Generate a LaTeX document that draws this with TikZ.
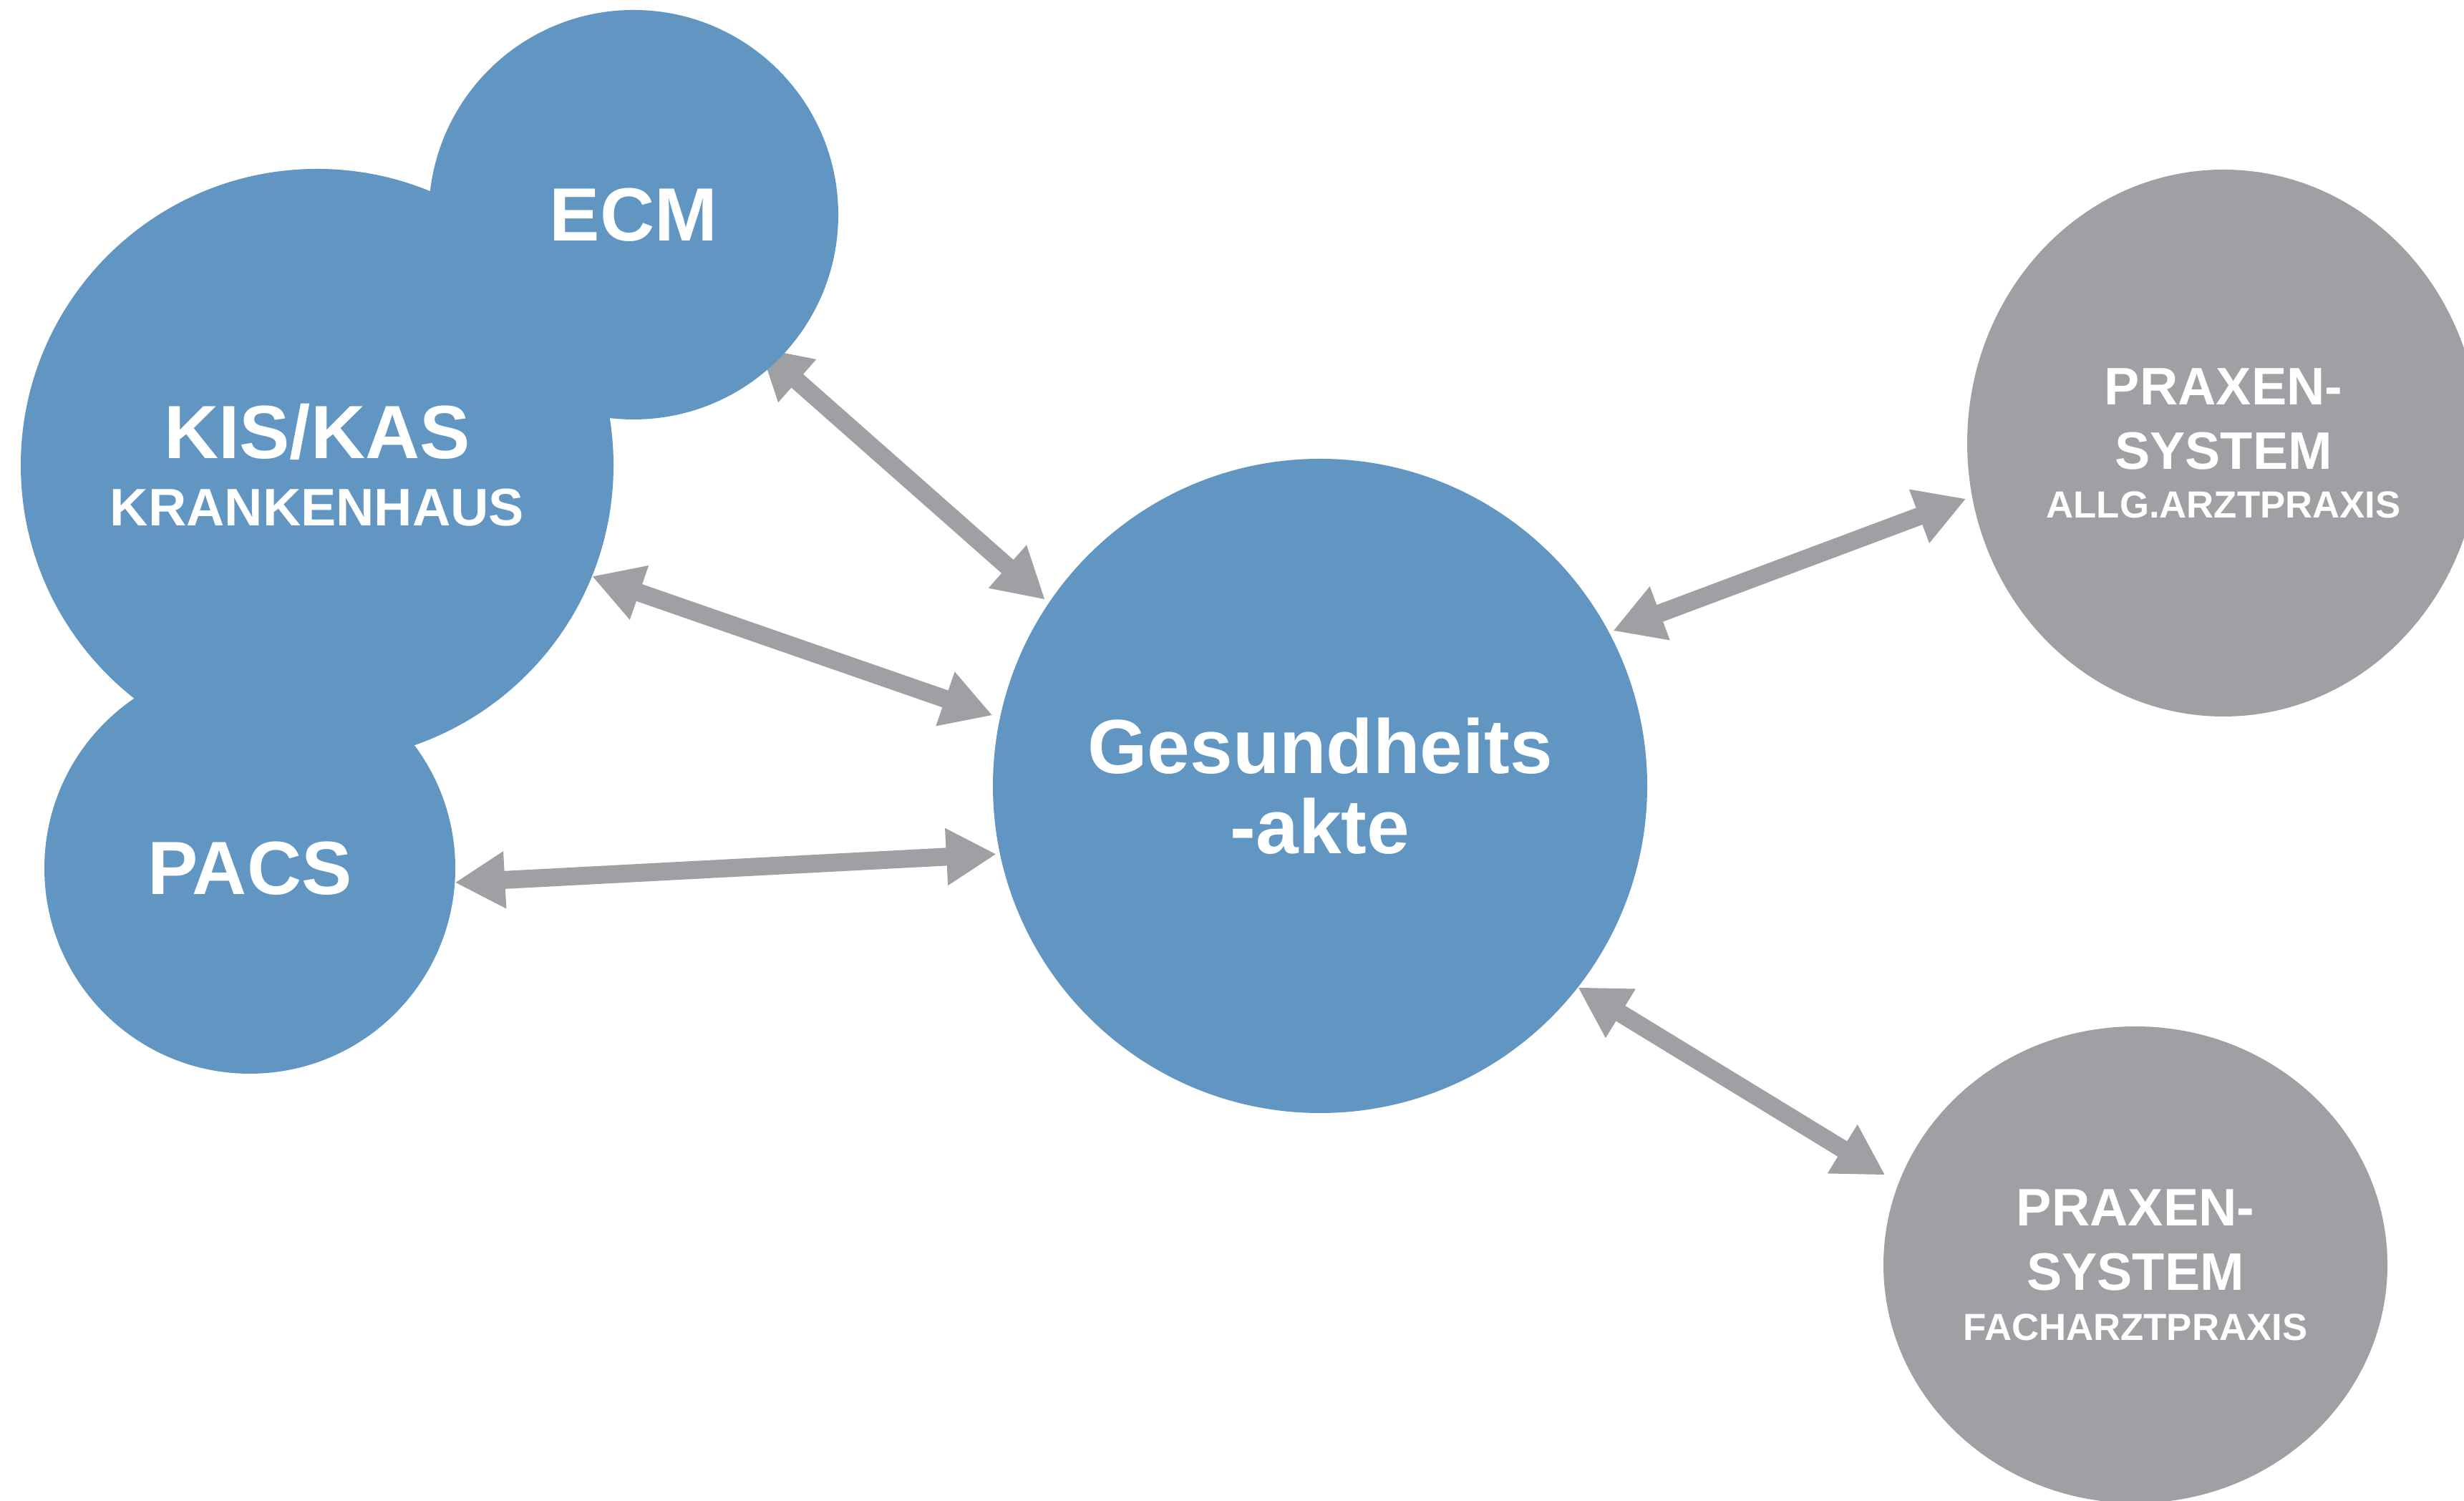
\documentclass[tikz,border=0pt]{standalone}
\usepackage{fontspec}
\setmainfont{Liberation Sans}
\usetikzlibrary{arrows.meta,shapes.geometric}
\definecolor{kisblue}{RGB}{97,149,194}
\definecolor{linkgrey}{RGB}{159,160,164}
\pgfdeclarelayer{bg}
\pgfsetlayers{bg,main}

\begin{document}
\begin{tikzpicture}
  [bubble/.style={circle,fill=kisblue,text=white,inner sep=0pt,outer sep=0pt,align=center},
   greybubble/.style={ellipse,fill=linkgrey,text=white,inner sep=0pt,outer sep=0pt,align=center},
   link/.style={draw=linkgrey,line width=2.5mm,{Triangle[length=7mm,width=7.5mm]}-{Triangle[length=7mm,width=7.5mm]}}]

  \begin{pgfonlayer}{bg}
    \fill[white] (0,0) rectangle (34.42,20.97);
  \end{pgfonlayer}
  \useasboundingbox (0,0) rectangle (34.42,20.97);

  \node[bubble,minimum size=8.28cm,font=\bfseries\fontsize{30}{26.7}\selectfont] (kis) at (4.43,14.47)
    {KIS/KAS\\{\fontsize{21}{21}\selectfont KRANKENHAUS}};
  \node[bubble,minimum size=5.72cm,font=\bfseries\fontsize{30}{32}\selectfont] (ecm) at (8.85,17.97) {ECM};
  \node[bubble,minimum size=5.74cm,font=\bfseries\fontsize{30}{32}\selectfont] (pacs) at (3.49,8.84) {PACS};
  \node[bubble,minimum size=9.14cm,font=\bfseries\fontsize{30.5}{31.9}\selectfont] (ges) at (18.44,9.99)
    {Gesundheits\\-akte};
  \node[greybubble,minimum width=7.16cm,minimum height=7.64cm,font=\bfseries\fontsize{21}{25.6}\selectfont] (allg) at (31.06,14.78)
    {PRAXEN-\\SYSTEM\\[-6.3pt]{\fontsize{15}{15}\selectfont ALLG.ARZTPRAXIS}};
  \node[greybubble,minimum width=7.04cm,minimum height=6.66cm,font=\bfseries\fontsize{21}{25.6}\selectfont] (fach) at (29.83,3.30)
    {PRAXEN-\\SYSTEM\\[-5.7pt]{\fontsize{15}{15}\selectfont FACHARZTPRAXIS}};

  \begin{pgfonlayer}{bg}
    \foreach \from/\to/\sa/\sb in {ecm.-46/ges.146/-3mm/0.7mm,kis.-22.5/ges.168/0mm/1.1mm,pacs.-4.5/ges.192/0mm/0.5mm,ges.28/allg.192.4/0.6mm/0.9mm,ges.-38.7/fach.161/0mm/2.2mm}
      \draw[link,shorten <=\sa,shorten >=\sb] (\from) -- (\to);
  \end{pgfonlayer}
\end{tikzpicture}
\end{document}
